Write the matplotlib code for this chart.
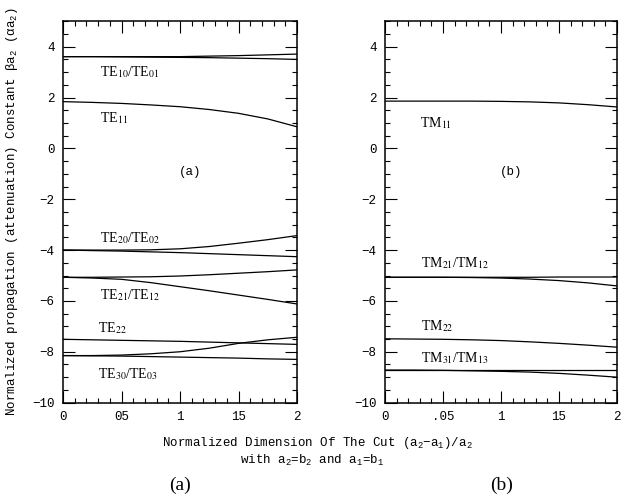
import matplotlib
matplotlib.use("Agg")
import matplotlib.pyplot as plt
from matplotlib.ticker import MultipleLocator, FixedLocator, FixedFormatter

plt.rcParams['mathtext.fontset'] = 'custom'
plt.rcParams['mathtext.rm'] = 'Liberation Mono'
plt.rcParams['mathtext.it'] = 'Liberation Mono'
plt.rcParams['font.family'] = ['Liberation Mono', 'DejaVu Sans Mono']

# ---- data ----
x = [0.0, 0.25, 0.5, 0.75, 1.0, 1.25, 1.5, 1.75, 2.0]

# panel (a): TE modes
te10_up = [3.61, 3.61, 3.61, 3.61, 3.61, 3.63, 3.65, 3.68, 3.71]
te10_lo = [3.61, 3.61, 3.60, 3.59, 3.58, 3.57, 3.55, 3.53, 3.50]
te11 = [1.84, 1.81, 1.77, 1.71, 1.64, 1.53, 1.38, 1.16, 0.85]
te20_up = [-4.00, -4.00, -4.00, -3.99, -3.95, -3.86, -3.73, -3.59, -3.43]
te20_lo = [-4.00, -4.02, -4.04, -4.07, -4.10, -4.14, -4.18, -4.22, -4.26]
te21_up = [-5.07, -5.07, -5.06, -5.05, -5.02, -4.97, -4.91, -4.85, -4.78]
te21_lo = [-5.07, -5.10, -5.15, -5.28, -5.44, -5.60, -5.77, -5.94, -6.12]
te22 = [-7.51, -7.53, -7.55, -7.57, -7.59, -7.62, -7.65, -7.68, -7.71]
te30_up = [-8.15, -8.15, -8.13, -8.08, -8.00, -7.86, -7.67, -7.53, -7.43]
te30_lo = [-8.15, -8.16, -8.17, -8.19, -8.21, -8.23, -8.25, -8.28, -8.30]

# panel (b): TM modes
tm11 = [1.86, 1.86, 1.86, 1.86, 1.85, 1.83, 1.79, 1.72, 1.63]
tm21_up = [-5.07, -5.07, -5.07, -5.07, -5.07, -5.07, -5.06, -5.06, -5.06]
tm21_lo = [-5.07, -5.07, -5.07, -5.08, -5.10, -5.14, -5.20, -5.29, -5.41]
tm22 = [-7.49, -7.50, -7.51, -7.53, -7.56, -7.61, -7.67, -7.74, -7.82]
tm31_up = [-8.72, -8.72, -8.72, -8.72, -8.72, -8.72, -8.72, -8.72, -8.72]
tm31_lo = [-8.72, -8.72, -8.73, -8.75, -8.77, -8.80, -8.85, -8.92, -9.00]

series_a = [te10_up, te10_lo, te11, te20_up, te20_lo, te21_up, te21_lo,
            te22, te30_up, te30_lo]
series_b = [tm11, tm21_up, tm21_lo, tm22, tm31_up, tm31_lo]

labels_a = [("TE$_{10}$/TE$_{01}$", 0.32, 3.02),
            ("TE$_{11}$", 0.32, 1.18),
            ("TE$_{20}$/TE$_{02}$", 0.32, -3.51),
            ("TE$_{21}$/TE$_{12}$", 0.32, -5.77),
            ("TE$_{22}$", 0.30, -7.05),
            ("TE$_{30}$/TE$_{03}$", 0.30, -8.87)]
labels_b = [("TM$_{11}$", 0.30, 0.99),
            ("TM$_{21}$/TM$_{12}$", 0.31, -4.52),
            ("TM$_{22}$", 0.31, -7.01),
            ("TM$_{31}$/TM$_{13}$", 0.31, -8.26)]

xticks = [0, 0.5, 1, 1.5, 2]
xticklabels_a = ["0", "05", "1", "15", "2"]
xticklabels_b = ["0", ".05", "1", "15", "2"]
yticks = [-10, -8, -6, -4, -2, 0, 2, 4]

W, H = 623, 497
fig = plt.figure(figsize=(W / 100, H / 100), dpi=100)

def make_ax(left_px, right_px, series, labels, xtl, tag):
    top_px, bot_px = 21.3, 402.6
    ax = fig.add_axes([left_px / W, (H - bot_px) / H,
                       (right_px - left_px) / W, (bot_px - top_px) / H])
    for s in series:
        ax.plot(x, s, color='black', lw=0.9)
    ax.set_xlim(0, 2)
    ax.set_ylim(-10, 5)
    ax.xaxis.set_major_locator(FixedLocator(xticks))
    ax.xaxis.set_major_formatter(FixedFormatter(xtl))
    ax.xaxis.set_minor_locator(MultipleLocator(0.1))
    ax.yaxis.set_major_locator(FixedLocator(yticks))
    ax.yaxis.set_minor_locator(MultipleLocator(0.5))
    ax.tick_params(which='both', direction='in', top=True, right=True,
                   width=0.8, colors='black')
    ax.tick_params(which='major', length=8.5, labelsize=9, pad=6)
    ax.tick_params(which='minor', length=3.8)
    for sp in ax.spines.values():
        sp.set_linewidth(1.1)
    for t, lx, ly in labels:
        ax.text(lx, ly, t, fontsize=10, family='Liberation Serif',
                math_fontfamily='stix', ha='left', va='center')
    ax.text(1.09, -0.93, tag, fontsize=9, ha='center', va='center')
    return ax

make_ax(63, 297, series_a, labels_a, xticklabels_a, "(a)")
make_ax(385, 617, series_b, labels_b, xticklabels_b, "(b)")

fig.text(12 / W, 1 - 212 / H,
         "Normalized propagation (attenuation) Constant \u03b2a$_{2}$ (\u03b1a$_{2}$)",
         rotation=90, fontsize=9, ha='center', va='center')
fig.text(317 / W, 1 - 443 / H,
         "Normalized Dimension Of The Cut (a$_{2}$\u2212a$_{1}$)/a$_{2}$",
         fontsize=9, ha='center', va='center')
fig.text(312 / W, 1 - 460 / H,
         "with a$_{2}$=b$_{2}$ and a$_{1}$=b$_{1}$",
         fontsize=9, ha='center', va='center')
fig.text(180 / W, 1 - 485 / H, "(a)", fontsize=14,
         family='Liberation Serif', ha='center', va='center')
fig.text(502 / W, 1 - 485 / H, "(b)", fontsize=14,
         family='Liberation Serif', ha='center', va='center')

fig.savefig("out.png", dpi=100)
